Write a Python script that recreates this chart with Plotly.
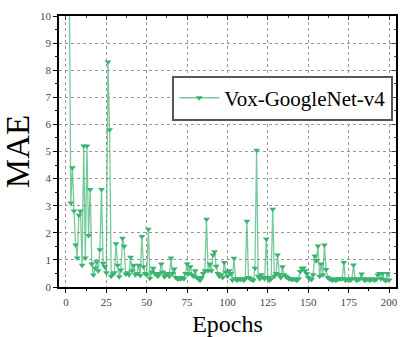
import plotly.graph_objects as go

epochs = list(range(1, 201))
mae = [
    30, 12, 3.1, 4.4, 2.8, 1.55, 1.07, 2.65, 2.8, 0.8,
    5.2, 1.07, 5.2, 1.9, 3.6, 0.85, 0.44, 0.7, 0.93, 0.6,
    1.37, 3.6, 0.88, 0.75, 0.53, 8.3, 5.8, 0.4, 0.48, 0.53,
    1.6, 0.8, 0.38, 0.63, 1.8, 1.5, 0.48, 0.53, 0.45, 1.1,
    0.6, 0.8, 0.45, 0.5, 0.8, 0.42, 1.86, 0.75, 0.5, 0.45,
    2.13, 0.32, 0.55, 0.69, 0.5, 0.45, 0.4, 0.5, 0.85, 0.55,
    0.38, 0.45, 0.5, 0.4, 1.07, 0.5, 0.66, 0.35, 0.3, 0.3,
    0.3, 0.35, 0.3, 0.5, 0.85, 0.5, 0.75, 0.45, 0.4, 0.6,
    0.35, 0.3, 0.25, 0.35, 0.5, 0.6, 2.5, 0.6, 0.85, 0.6,
    1.18, 1.3, 0.77, 0.5, 0.4, 0.45, 0.35, 0.9, 0.55, 0.4,
    0.6, 0.5, 0.25, 1.06, 0.3, 0.25, 0.3, 0.28, 0.3, 0.25,
    0.3, 2.43, 0.35, 0.3, 0.28, 0.25, 0.69, 5.05, 0.4, 0.3,
    0.45, 0.35, 0.3, 1.77, 0.35, 0.25, 0.3, 2.87, 0.4, 0.5,
    1.18, 0.45, 0.35, 0.75, 0.45, 0.4, 0.35, 0.3, 0.3, 0.28,
    0.3, 0.28, 0.25, 0.3, 0.57, 0.69, 0.7, 0.6, 0.5, 0.35,
    0.3, 0.28, 0.45, 1.14, 0.97, 1.51, 0.4, 0.85, 0.45, 1.55,
    0.65, 0.36, 0.3, 0.28, 0.25, 0.3, 0.25, 0.28, 0.3, 0.3,
    0.3, 0.9, 0.25, 0.28, 0.3, 0.25, 0.3, 0.81, 0.3, 0.25,
    0.28, 0.3, 0.48, 0.3, 0.25, 0.28, 0.3, 0.25, 0.28, 0.3,
    0.25, 0.28, 0.44, 0.5, 0.3, 0.5, 0.28, 0.23, 0.5, 0.26,
]
series_name = "Vox-GoogleNet-v4"
x_ticks = [0, 25, 50, 75, 100, 125, 150, 175, 200]
x_minor = [12.5, 37.5, 62.5, 87.5, 112.5, 137.5, 162.5, 187.5]
y_ticks = list(range(0, 11))

font_family = "Times New Roman, Liberation Serif, DejaVu Serif, serif"
green = "#3cb371"

fig = go.Figure()
fig.add_trace(go.Scatter(
    x=epochs, y=mae, mode="lines+markers", name=series_name,
    line=dict(color="rgba(60,179,113,0.7)", width=1.3),
    marker=dict(symbol="triangle-down", size=6, color=green, line=dict(width=0)),
))

axis_common = dict(
    showline=True, linecolor="black", linewidth=1.5,
    tickfont=dict(family=font_family, size=11, color="#444"),
    ticklen=4, tickwidth=1, tickcolor="black",
    showgrid=True, gridcolor="#999", griddash="dot", gridwidth=1,
    zeroline=False,
)

fig.update_layout(
    width=400, height=337,
    margin=dict(l=59, r=2, t=16, b=50),
    paper_bgcolor="white", plot_bgcolor="white",
    font=dict(family=font_family, color="black"),
    showlegend=True,
    legend=dict(
        x=0.336, y=0.78, xanchor="left", yanchor="top",
        bgcolor="white", bordercolor="#555", borderwidth=2,
        font=dict(family=font_family, size=21, color="black"),
        itemwidth=40, tracegroupgap=0,
    ),
    xaxis=dict(
        range=[-4.3, 204.3], tickvals=x_ticks, ticks="outside",
        minor=dict(tickvals=x_minor, ticks="outside", ticklen=2, tickcolor="black"),
        title=dict(text="Epochs", font=dict(family=font_family, size=24), standoff=9),
        **axis_common,
    ),
    yaxis=dict(
        range=[0, 10], tickvals=y_ticks, ticks="outside",
        minor=dict(dtick=0.5, tick0=0, ticks="outside", ticklen=2, tickcolor="black"),
        title=dict(text="MAE", font=dict(family=font_family, size=33), standoff=5),
        **axis_common,
    ),
    xaxis2=dict(
        overlaying="x", side="top", range=[-4.3, 204.3], tickvals=x_ticks,
        ticks="inside", ticklen=4, showticklabels=False, showgrid=False,
        showline=True, linecolor="black", linewidth=1.5, zeroline=False,
        minor=dict(tickvals=x_minor, ticks="inside", ticklen=2),
    ),
    yaxis2=dict(
        overlaying="y", side="right", range=[0, 10], tickvals=y_ticks,
        ticks="inside", ticklen=4, showticklabels=False, showgrid=False,
        showline=True, linecolor="black", linewidth=1.5, zeroline=False,
        minor=dict(dtick=0.5, tick0=0, ticks="inside", ticklen=2),
    ),
)
fig.add_trace(go.Scatter(x=[None], y=[None], xaxis="x2", yaxis="y2",
                         showlegend=False, hoverinfo="skip"))

fig.write_html("out.html")
